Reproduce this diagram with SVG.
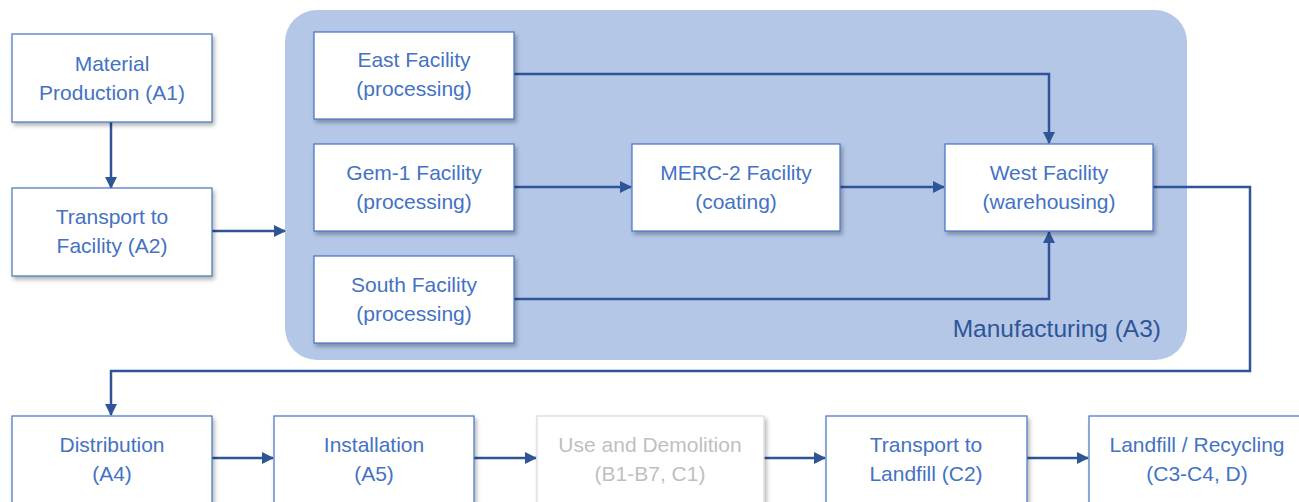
<svg xmlns="http://www.w3.org/2000/svg" width="1299" height="502" viewBox="0 0 1299 502">
<style>
.box{fill:#fff;stroke:#4472C4;stroke-width:1.2;filter:url(#sh)}
.grey{fill:#fff;stroke:#D9D9D9;stroke-width:1.2;filter:url(#sh)}
.t{font-family:"Liberation Sans",Arial,sans-serif;font-size:21px;fill:#4472C4;text-anchor:middle}
.tg{fill:#BFBFBF}
.c{fill:none;stroke:#2F5597;stroke-width:2.5;marker-end:url(#ah)}
</style>
<defs>
<filter id="sh" x="-10%" y="-10%" width="130%" height="130%">
<feDropShadow dx="2" dy="3" stdDeviation="2" flood-color="#000" flood-opacity="0.3"/>
</filter>
<marker id="ah" markerUnits="userSpaceOnUse" markerWidth="12" markerHeight="12" refX="11" refY="6" orient="auto">
<path d="M0,0 L12,6 L0,12 Z" fill="#2F5597"/>
</marker>
</defs>
<g id="manufacturing">
<rect x="285" y="10" width="902" height="350" rx="32" fill="#B4C7E7"/>
<text x="1161" y="337" style="font-family:'Liberation Sans',Arial,sans-serif;font-size:24.5px;fill:#2F5597;text-anchor:end">Manufacturing (A3)</text>
</g>
<g id="connectors">
<path class="c" d="M111,122 V188"/>
<path class="c" d="M212,231 H285"/>
<path class="c" d="M514,74 H1049 V143"/>
<path class="c" d="M514,187 H631"/>
<path class="c" d="M840,187 H944"/>
<path class="c" d="M514,299 H1049 V232"/>
<path class="c" d="M1152,187 H1250 V371 H111 V415"/>
<path class="c" d="M212,458 H273"/>
<path class="c" d="M473,458 H536"/>
<path class="c" d="M764,458 H825"/>
<path class="c" d="M1027,458 H1088"/>
</g>
<g id="a1"><rect class="box" x="12" y="34" width="200" height="88"/><text class="t" x="112" y="71">Material</text><text class="t" x="112" y="100">Production (A1)</text></g>
<g id="a2"><rect class="box" x="12" y="188" width="200" height="88"/><text class="t" x="112" y="224">Transport to</text><text class="t" x="112" y="253">Facility (A2)</text></g>
<g id="east"><rect class="box" x="314" y="32" width="200" height="87"/><text class="t" x="414" y="67">East Facility</text><text class="t" x="414" y="96">(processing)</text></g>
<g id="gem1"><rect class="box" x="314" y="144" width="200" height="87"/><text class="t" x="414" y="180">Gem-1 Facility</text><text class="t" x="414" y="209">(processing)</text></g>
<g id="south"><rect class="box" x="314" y="256" width="200" height="87"/><text class="t" x="414" y="292">South Facility</text><text class="t" x="414" y="321">(processing)</text></g>
<g id="merc2"><rect class="box" x="632" y="144" width="208" height="87"/><text class="t" x="736" y="180">MERC-2 Facility</text><text class="t" x="736" y="209">(coating)</text></g>
<g id="west"><rect class="box" x="945" y="144" width="208" height="87"/><text class="t" x="1049" y="180">West Facility</text><text class="t" x="1049" y="209">(warehousing)</text></g>
<g id="a4"><rect class="box" x="12" y="416" width="200" height="96"/><text class="t" x="112" y="452">Distribution</text><text class="t" x="112" y="481">(A4)</text></g>
<g id="a5"><rect class="box" x="274" y="416" width="200" height="96"/><text class="t" x="374" y="452">Installation</text><text class="t" x="374" y="481">(A5)</text></g>
<g id="b"><rect class="grey" x="537" y="416" width="227" height="96"/><text class="t tg" x="650" y="452">Use and Demolition</text><text class="t tg" x="650" y="481">(B1-B7, C1)</text></g>
<g id="c2"><rect class="box" x="826" y="416" width="201" height="96"/><text class="t" x="926" y="452">Transport to</text><text class="t" x="926" y="481">Landfill (C2)</text></g>
<g id="c3"><rect class="box" x="1089" y="416" width="220" height="96"/><text class="t" x="1197" y="452">Landfill / Recycling</text><text class="t" x="1197" y="481">(C3-C4, D)</text></g>
</svg>
